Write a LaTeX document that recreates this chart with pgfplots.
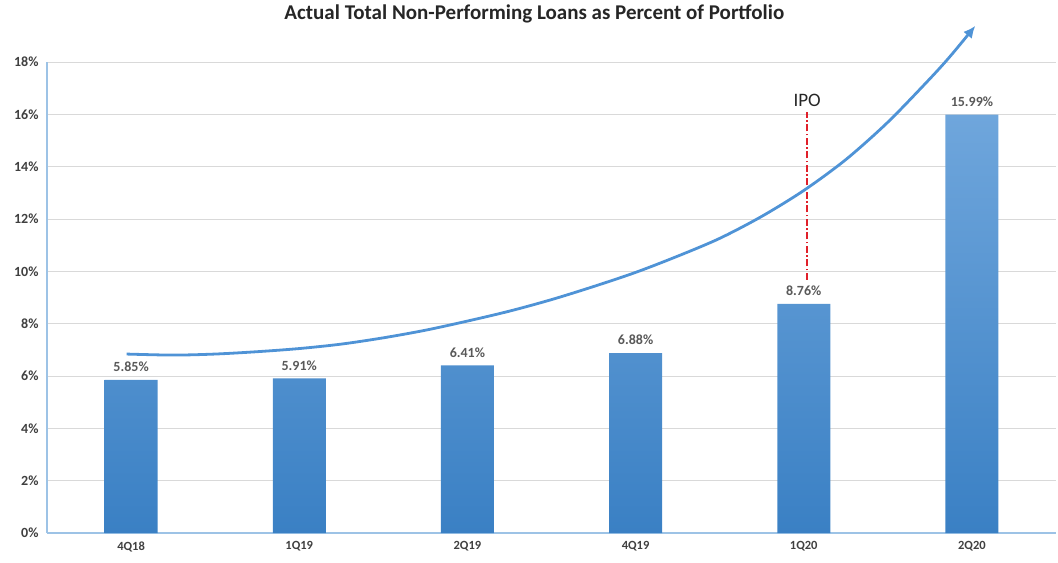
\documentclass[border=0pt]{standalone}
\usepackage{pgfplots}
\pgfplotsset{compat=1.18}
\usepackage{fontspec}
\setmainfont{Carlito}
\usetikzlibrary{arrows.meta}
\definecolor{gridgray}{HTML}{D9D9D9}
\definecolor{axblue}{HTML}{9DC3E6}
\definecolor{bartop}{HTML}{6FA6DC}
\definecolor{barbot}{HTML}{3A80C4}
\definecolor{curveblue}{HTML}{4F93D6}
\definecolor{lblgray}{HTML}{595959}
\definecolor{tickgray}{HTML}{404040}
\definecolor{ipored}{HTML}{E0202A}
\begin{document}
\begin{tikzpicture}
\begin{axis}[name=ax, scale only axis, width=1009pt, height=471pt,
  xmin=-0.5, xmax=5.5, ymin=0, ymax=18,
  xtick={0,1,2,3,4,5}, xticklabels={4Q18,1Q19,2Q19,4Q19,1Q20,2Q20},
  ytick={0,2,4,6,8,10,12,14,16,18},
  yticklabel={\pgfmathprintnumber{\tick}\%},
  /pgf/number format/assume math mode=true,
  axis x line*=bottom, axis y line*=left,
  axis line style={axblue, line width=1.2pt},
  ymajorgrids, grid style={gridgray, line width=0.8pt},
  major tick length=0pt,
  tick label style={text=tickgray},
  yticklabel style={font=\fontsize{14}{16}\selectfont\bfseries, xshift=-5pt},
  xticklabel style={font=\fontsize{12.5}{15}\selectfont\bfseries, yshift=-5pt},
  clip=false,
]
\addplot[ybar, bar width=53pt, draw=none, top color=bartop, bottom color=barbot]
  coordinates {(0,5.85) (1,5.91) (2,6.41) (3,6.88) (4,8.76) (5,15.99)};
\addplot[draw=none, mark=none, point meta=explicit,
  nodes near coords={\pgfmathprintnumber[fixed,fixed zerofill,precision=2]{\pgfplotspointmeta}\%},
  nodes near coords style={font=\fontsize{14}{16}\selectfont\bfseries, text=lblgray, anchor=south, yshift=4.5pt}]
  coordinates {(0,5.85)[5.85] (1,5.91)[5.91] (2,6.41)[6.41] (3,6.88)[6.88] (4,8.76)[8.76] (5,15.99)[15.99]};
\addplot[ipored, line width=1.6pt, dash pattern=on 7pt off 2.5pt on 1.5pt off 2.5pt]
  coordinates {(4.02,9.67) (4.02,16.09)};
\addplot[curveblue, line width=2.8pt, smooth, tension=0.5, -{Latex[length=12pt,width=11pt]}]
  coordinates {(-0.027,6.84) (0.25,6.80) (0.5,6.84) (0.75,6.93) (1.0,7.05) (1.25,7.22) (1.5,7.46) (1.75,7.75) (2.0,8.10) (2.25,8.48) (2.5,8.92) (2.75,9.42) (3.0,9.96) (3.25,10.58) (3.5,11.26) (3.75,12.10) (4.0,13.09) (4.25,14.27) (4.5,15.70) (4.75,17.36) (4.875,18.25) (5.02,19.38)};
\node[font=\fontsize{19}{21}\selectfont, text=black!85] at (axis cs:4.02,16.55) {IPO};
\node[font=\fontsize{21}{24}\selectfont\bfseries, text=black!85, yshift=48pt] at (rel axis cs:0.483,1) {Actual Total Non-Performing Loans as Percent of Portfolio};
\end{axis}
\pgfresetboundingbox
\path[use as bounding box] ([xshift=-47pt,yshift=-29pt]ax.south west) rectangle ([xshift=2pt,yshift=62pt]ax.north east);
\end{tikzpicture}
\end{document}
